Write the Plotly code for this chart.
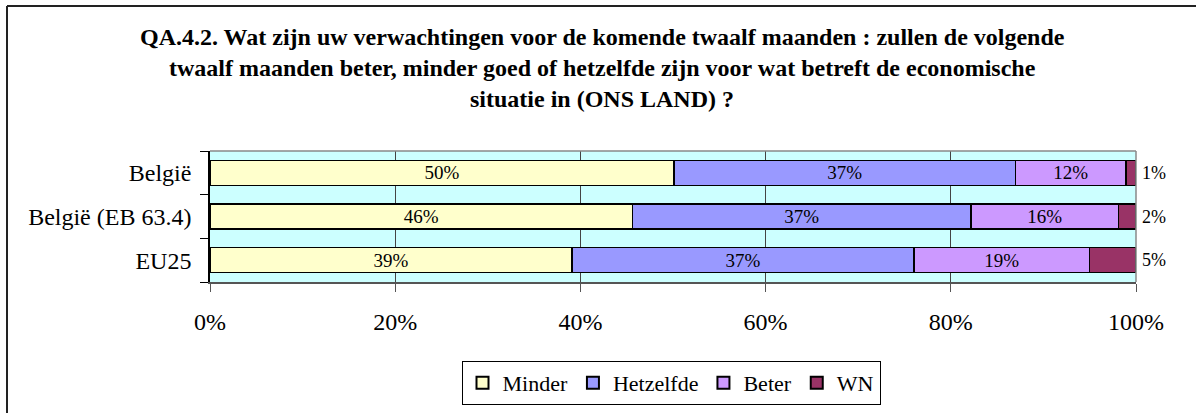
import plotly.graph_objects as go

categories = ["België", "België (EB 63.4)", "EU25"]
series_names = ["Minder", "Hetzelfde", "Beter", "WN"]
minder = [50.1, 45.6, 39.1]
hetzelfde = [36.9, 36.6, 36.9]
beter = [11.9, 15.9, 19.0]
wn = [1.1, 1.9, 5.0]
colors = ["#FFFFCC", "#9999FF", "#CC99FF", "#993366"]
title_lines = [
    "QA.4.2. Wat zijn uw verwachtingen voor de komende twaalf maanden : zullen de volgende",
    "twaalf maanden beter, minder goed of hetzelfde zijn voor wat betreft de economische",
    "situatie in (ONS LAND) ?",
]
x_ticks = [0, 20, 40, 60, 80, 100]
x_ticklabels = ["0%", "20%", "40%", "60%", "80%", "100%"]

W, H = 1196, 413
L, R, T, B = 210, 1136, 151, 282
FONT = "Liberation Serif"


def px(x):
    return (x - L) / (R - L)


def py(y):
    return (B - y) / (B - T)


fig = go.Figure()
all_vals = [minder, hetzelfde, beter, wn]
for i, (name, vals) in enumerate(zip(series_names, all_vals)):
    show_text = i < 3
    fig.add_trace(go.Bar(
        y=categories, x=vals, name=name, orientation="h",
        marker=dict(color=colors[i], line=dict(color="black", width=1.5)),
        width=0.57,
        text=[f"{v:.0f}%" for v in vals] if show_text else None,
        textposition="inside" if show_text else "none",
        insidetextanchor="middle",
        textfont=dict(family=FONT, size=19, color="black"),
        constraintext="none",
        hoverinfo="x+name",
    ))

annotations = []
for cat, v in zip(categories, wn):
    annotations.append(dict(
        x=100, y=cat, xref="x", yref="y", text=f"{v:.0f}%",
        showarrow=False, xanchor="left", xshift=4,
        font=dict(family=FONT, size=18, color="black"),
    ))
for i, line in enumerate(title_lines):
    annotations.append(dict(
        x=px(602), y=py(37 + 31 * i), xref="paper", yref="paper",
        text="<b>" + line + "</b>", showarrow=False,
        xanchor="center", yanchor="middle",
        font=dict(family=FONT, size=24, color="black"),
    ))

shapes = [
    # outer frame (left and top edges)
    dict(type="line", xref="paper", yref="paper", x0=px(7), x1=px(1200),
         y0=py(6), y1=py(6), line=dict(color="#222", width=2)),
    dict(type="line", xref="paper", yref="paper", x0=px(7), x1=px(7),
         y0=py(6), y1=py(420), line=dict(color="#222", width=2)),
    # plot area top and right border
    dict(type="line", xref="paper", yref="paper", x0=0, x1=1, y0=1, y1=1,
         line=dict(color="#888", width=1.5)),
    dict(type="line", xref="paper", yref="paper", x0=1, x1=1, y0=0, y1=1,
         line=dict(color="#888", width=1.5)),
]

fig.update_layout(
    width=W, height=H,
    margin=dict(l=L, r=W - R, t=T, b=H - B, pad=0, autoexpand=False),
    barmode="stack",
    bargap=0.43,
    paper_bgcolor="white",
    plot_bgcolor="#CCFFFF",
    font=dict(family=FONT, size=22, color="black"),
    showlegend=True,
    legend=dict(
        orientation="h", x=px(671), xanchor="center", y=py(361), yanchor="top",
        bordercolor="black", borderwidth=1, bgcolor="white",
        font=dict(family=FONT, size=22), traceorder="normal",
        itemsizing="constant", tracegroupgap=0, itemwidth=30,
    ),
    xaxis=dict(
        range=[0, 100], tickvals=x_ticks, ticktext=x_ticklabels,
        showgrid=True, gridcolor="#444", gridwidth=1,
        showline=True, linecolor="#555", linewidth=1.5,
        ticks="outside", ticklen=8, tickcolor="#555",
        zeroline=False, fixedrange=True,
        ticklabelstandoff=9,
        tickfont=dict(family=FONT, size=24),
    ),
    yaxis=dict(
        categoryorder="array", categoryarray=categories[::-1],
        showline=True, linecolor="black", linewidth=1.5,
        ticks="outside", ticklen=8, tickcolor="black",
        tickson="boundaries", showgrid=False,
        ticklabelstandoff=12,
        tickfont=dict(family=FONT, size=24),
        fixedrange=True,
    ),
    annotations=annotations,
    shapes=shapes,
)

fig.write_html(
    "out.html",
    config={"displayModeBar": False},
    post_script="document.body.style.margin='0';document.body.style.overflow='hidden';",
)
